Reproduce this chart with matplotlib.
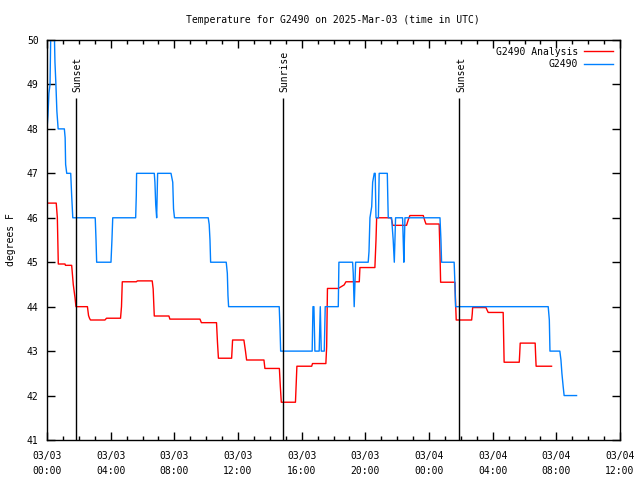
import numpy as np
import matplotlib
matplotlib.use('Agg')
import matplotlib.pyplot as plt
from matplotlib.ticker import MultipleLocator

# hores des de 03/03 00:00 UTC
obs_t = [0.00, 0.06, 0.12, 0.19, 0.25, 0.44, 0.50, 0.56, 0.62, 0.70, 1.09, 1.14, 1.17, 1.24,
         1.49, 1.55, 1.62, 3.03, 3.08, 3.12, 4.02, 4.08, 4.13, 5.57, 5.61, 5.63, 6.74, 6.78,
         6.83, 6.89, 6.95, 7.79, 7.90, 7.95, 8.01, 10.13, 10.19, 10.24, 10.28, 11.26, 11.33,
         11.37, 11.41, 14.59, 14.64, 14.68, 16.66, 16.71, 16.77, 16.83, 17.10, 17.17, 17.23,
         17.42, 17.48, 18.30, 18.34, 19.20, 19.24, 19.30, 19.39, 20.18, 20.23, 20.29, 20.40,
         20.46, 20.56, 20.62, 20.67, 20.82, 20.87, 21.38, 21.42, 21.44, 21.65, 21.75, 21.82,
         21.90, 22.34, 22.38, 22.42, 22.49, 24.69, 24.75, 24.79, 25.58, 25.63, 25.67, 31.49,
         31.56, 31.60, 32.22, 32.29, 32.35, 32.43, 32.49, 33.27]
obs_T = [48.0, 48.3, 48.8, 49.0, 50.5, 50.5, 49.5, 49.0, 48.4, 48.0, 48.0, 47.8, 47.2, 47.0,
         47.0, 46.5, 46.0, 46.0, 45.5, 45.0, 45.0, 45.5, 46.0, 46.0, 46.5, 47.0, 47.0, 46.8,
         46.3, 46.0, 47.0, 47.0, 46.8, 46.2, 46.0, 46.0, 45.85, 45.5, 45.0, 45.0, 44.75,
         44.25, 44.0, 44.0, 43.5, 43.0, 43.0, 44.0, 44.0, 43.0, 43.0, 44.0, 43.0,
         43.0, 44.0, 44.0, 45.0, 45.0, 44.75, 44.0, 45.0, 45.0, 45.24, 46.0, 46.25,
         46.8, 47.0, 47.0, 46.0, 46.0, 47.0, 47.0, 46.3, 46.0, 46.0, 45.5, 45.0,
         46.0, 46.0, 45.5, 45.0, 46.0, 46.0, 45.5, 45.0, 45.0, 44.5, 44.0, 44.0,
         43.7, 43.0, 43.0, 42.8, 42.5, 42.2, 42.0, 42.0]

ana_t = [0.02, 0.58, 0.65, 0.71, 1.13, 1.16, 1.55, 1.65, 1.76, 1.82, 2.54, 2.61, 2.67, 2.73,
         3.64, 3.74, 4.62, 4.68, 4.73, 5.61, 5.68, 6.61, 6.67, 6.74, 7.66, 7.72, 9.61, 9.70,
         10.65, 10.71, 10.77, 11.60, 11.66, 12.37, 12.47, 12.54, 13.63, 13.69, 14.60, 14.66,
         14.72, 15.61, 15.66, 15.70, 16.63, 16.68, 17.52, 17.57, 17.62, 18.30, 18.67, 18.78,
         19.62, 19.66, 20.60, 20.67, 20.71, 21.61, 21.67, 21.72, 22.59, 22.71, 22.80, 23.64,
         23.74, 23.81, 24.64, 24.69, 24.73, 25.63, 25.67, 25.71, 26.68, 26.72, 26.74, 27.58,
         27.64, 27.72, 28.66, 28.69, 28.72, 29.67, 29.70, 29.73, 30.67, 30.70, 30.73, 31.70]
ana_T = [46.33, 46.33, 46.0, 44.96, 44.96, 44.93, 44.93, 44.5, 44.2, 44.0, 44.0, 43.8, 43.74, 43.7,
         43.7, 43.74, 43.74, 44.0, 44.56, 44.56, 44.58, 44.58, 44.4, 43.79, 43.79, 43.72, 43.72, 43.64,
         43.64, 43.2, 42.84, 42.84, 43.25, 43.25, 43.0, 42.8, 42.8, 42.61, 42.61, 42.2,
         41.85, 41.85, 42.3, 42.66, 42.66, 42.72, 42.72, 43.1, 44.41, 44.41, 44.49, 44.56,
         44.56, 44.88, 44.88, 45.5, 46.0, 46.0, 45.93, 45.83, 45.83, 45.97, 46.05, 46.05,
         45.93, 45.86, 45.86, 45.2, 44.55, 44.55, 44.1, 43.7, 43.7, 43.85, 43.98, 43.98,
         43.93, 43.87, 43.87, 43.3, 42.75, 42.75, 42.95, 43.18, 43.18, 42.9, 42.66, 42.66]

esdev_t = [1.82, 14.84, 25.91]
esdev_nom = ['Sunset', 'Sunrise', 'Sunset']

xticks = np.arange(0, 37, 4)
xlabels = ['03/03\n00:00', '03/03\n04:00', '03/03\n08:00', '03/03\n12:00', '03/03\n16:00',
           '03/03\n20:00', '03/04\n00:00', '03/04\n04:00', '03/04\n08:00', '03/04\n12:00']

plt.rcParams['font.family'] = 'DejaVu Sans Mono'
plt.rcParams['font.size'] = 7

fig = plt.figure(figsize=(6.4, 4.8), dpi=100)
ax = fig.add_axes([47/640, 40/480, 573/640, 400/480])

ax.plot(ana_t, ana_T, color='#ff0000', lw=1.0, label='G2490 Analysis')
ax.plot(obs_t, obs_T, color='#0080ff', lw=1.0, label='G2490')

for t, nom in zip(esdev_t, esdev_nom):
    ax.vlines(t, 41, 48.7, color='black', lw=1.0)
    ax.text(t + 0.1, 48.83, nom, rotation=90, ha='center', va='bottom', fontsize=7)

ax.set_xlim(0, 36)
ax.set_ylim(41, 50)
ax.set_xticks(xticks)
ax.set_xticklabels(xlabels, linespacing=1.6)
ax.xaxis.set_minor_locator(MultipleLocator(1))
ax.set_yticks(np.arange(41, 51))
ax.tick_params(which='both', direction='in', top=True, right=True, width=1)
ax.tick_params(which='major', length=6)
ax.tick_params(axis='x', which='major', pad=8)
ax.tick_params(axis='y', which='major', pad=6)
ax.tick_params(which='minor', length=3)
for s in ax.spines.values():
    s.set_linewidth(1)

fig.text(11/640, 0.5, 'degrees F', rotation=90, ha='center', va='center', fontsize=7)
fig.text(333/640, 1 - 20/480, 'Temperature for G2490 on 2025-Mar-03 (time in UTC)',
         ha='center', va='center', fontsize=7)
ax.legend(loc='upper right', frameon=False, markerfirst=False, handlelength=3.0,
          handletextpad=0.6, labelspacing=0.25, borderaxespad=0.3, fontsize=7)

plt.savefig('out.png')
